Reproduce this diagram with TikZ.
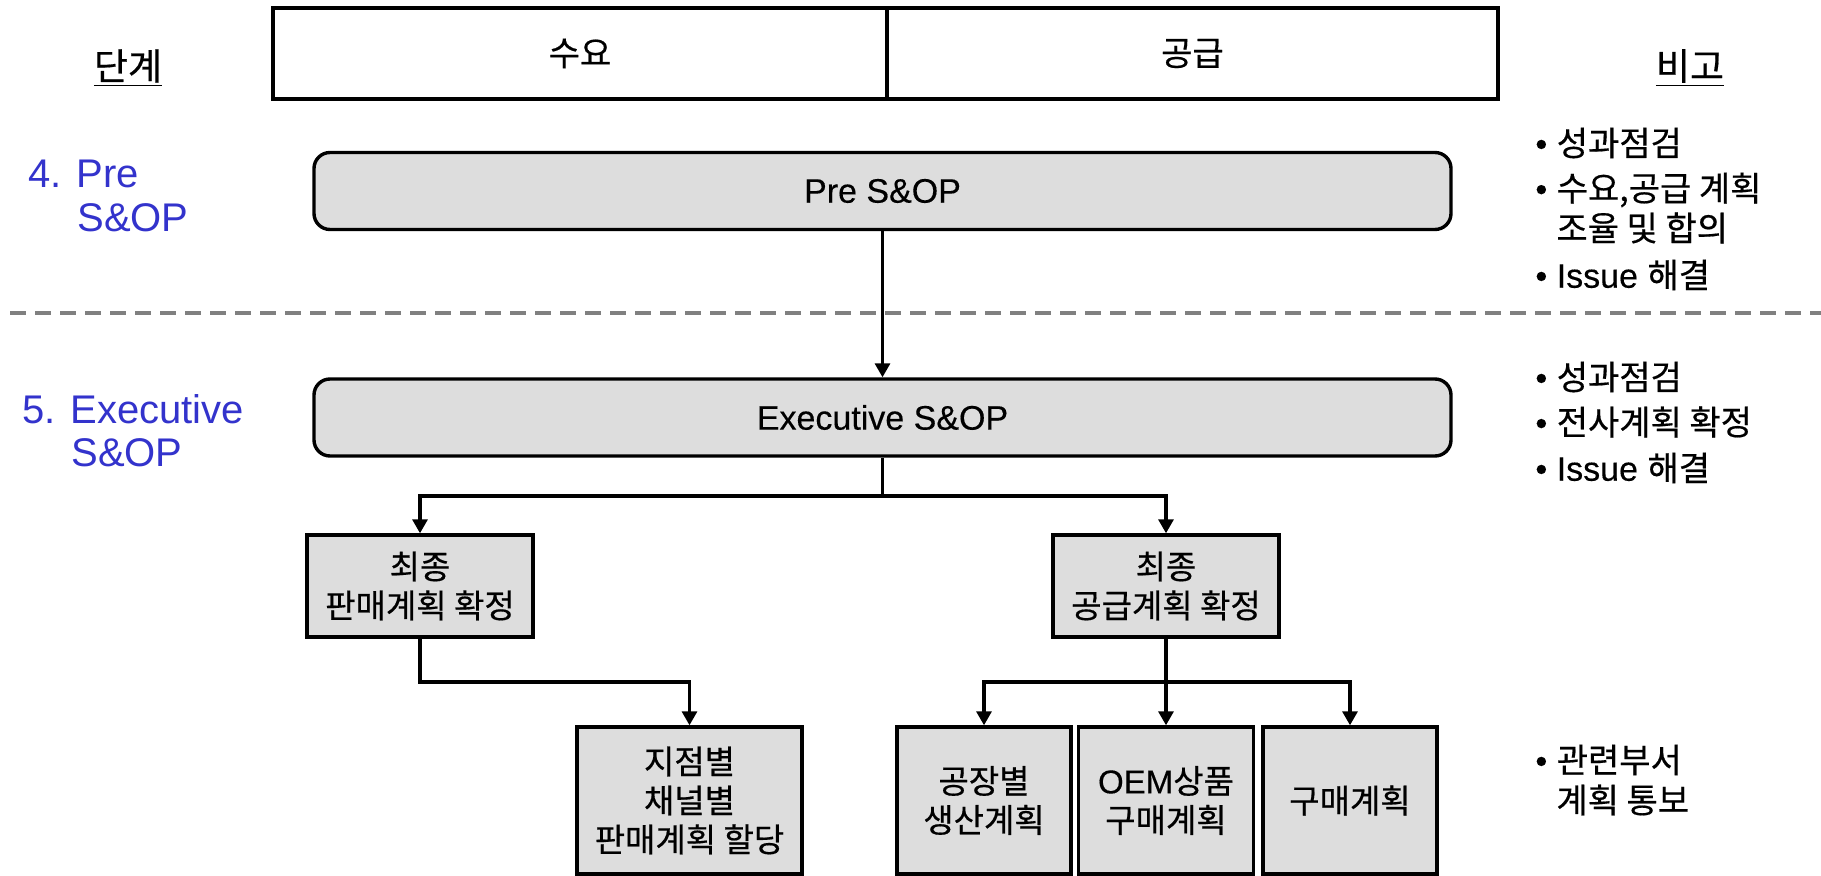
\documentclass[tikz,border=0pt]{standalone}
\usepackage{fontspec}
\setmainfont{Noto Sans CJK KR}[FakeBold=0.5]
\newfontfamily\enfont{Liberation Sans}[FakeBold=0.3]
\newfontfamily\phasefont{Liberation Sans}
\usetikzlibrary{positioning,arrows.meta}
\definecolor{stagecol}{RGB}{51,51,204}
\definecolor{boxfill}{RGB}{221,221,221}
\definecolor{sepgray}{RGB}{128,128,128}

\begin{document}
\begin{tikzpicture}
  [x=0.5pt,y=-0.5pt,
   hdr/.style={rectangle,draw,line width=1.6pt,minimum height=45.5pt,
               inner sep=0pt,font=\fontsize{17}{20}\selectfont},
   stage/.style={rectangle,rounded corners=8pt,draw,line width=1.7pt,
                 fill=boxfill,minimum width=568.5pt,minimum height=38.5pt,
                 font=\enfont\fontsize{17}{20}\selectfont},
   task/.style={rectangle,draw,line width=1.7pt,fill=boxfill,align=center,
                inner sep=0pt,font=\fontsize{16.5}{19.5}\selectfont},
   phase/.style={anchor=west,inner sep=0pt,text=stagecol,
                 font=\phasefont\fontsize{20}{24}\selectfont},
   note/.style={anchor=west,inner sep=0pt,font=\fontsize{17}{20}\selectfont},
   arr/.style={line width=1.6pt,-{Triangle[length=7pt,width=7.5pt]}},
   link/.style={line width=1.6pt}]
  \useasboundingbox (0,0) rectangle (1821,876);

  \node[hdr,minimum width=307pt]   (demand)    at (580,53.5)    {수요};
  \node[hdr,minimum width=305.5pt] (supplyhdr) at (1192.5,53.5) {공급};
  \node[note,anchor=center,font=\fontsize{18.5}{22}\selectfont]
       (steps)   at (128,68)  {\underline{단계}};
  \node[note,anchor=center,font=\fontsize{18.5}{22}\selectfont]
       (remarks) at (1690,68) {\underline{비고}};

  \node[stage] (pre)  at (882.5,191)   {Pre S\&OP};
  \node[stage] (exec) at (882.5,417.5) {Executive S\&OP};

  \node[phase] (pre4)  at (28,174) {4. Pre};
  \node[phase] (pre4b) at (77,218) {S\&OP};
  \node[phase] (exe5)  at (22,409) {5. Executive};
  \node[phase] (exe5b) at (71,453) {S\&OP};

  \draw[sepgray,line width=2pt,dash pattern=on 8pt off 4.5pt]
       (10,313) -- (1821,313);

  \node[task,minimum width=113pt,minimum height=51pt] (sales)  at (420,586)
       {최종\\판매계획 확정};
  \node[task,minimum width=113pt,minimum height=51pt] (supply) at (1166,586)
       {최종\\공급계획 확정};
  \node[task,minimum width=112.5pt,minimum height=73.5pt] (alloc) at (689.5,800.5)
       {지점별\\채널별\\판매계획 할당};
  \node[task,minimum width=87pt,minimum height=73.5pt] (plant) at (984,800.5)
       {공장별\\생산계획};
  \node[task,minimum width=87.5pt,minimum height=73.5pt] (oem) at (1166,800.5)
       {{\enfont OEM}상품\\구매계획};
  \node[task,minimum width=87pt,minimum height=73.5pt] (buy) at (1350,800.5)
       {구매계획};

  \node[note] (n1)  at (1535,143) {{\enfont• }성과점검};
  \node[note] (n2)  at (1535,190) {{\enfont• }수요,공급 계획};
  \node[note] (n2b) at (1556,228) {조율 및 합의};
  \node[note] (n3)  at (1535,275) {{\enfont• Issue }해결};
  \node[note] (n4)  at (1535,377) {{\enfont• }성과점검};
  \node[note] (n5)  at (1535,422) {{\enfont• }전사계획 확정};
  \node[note] (n6)  at (1535,468) {{\enfont• Issue }해결};
  \node[note] (n7)  at (1535,760) {{\enfont• }관련부서};
  \node[note] (n7b) at (1556,800) {계획 통보};

  \coordinate (fork1) at (882.5,496);
  \coordinate (fork2) at (1166,682);

  \draw[arr]  (pre) -- (exec);
  \draw[link] (exec) -- (fork1);
  \draw[arr]  (fork1) -| (sales);
  \draw[arr]  (fork1) -| (supply);
  \draw[arr]  (sales.south) -- (sales.south |- fork2) -| (alloc);
  \draw[link] (supply) -- (fork2);
  \draw[arr]  (fork2) -| (plant);
  \draw[arr]  (fork2) -- (oem);
  \draw[arr]  (fork2) -| (buy);
\end{tikzpicture}
\end{document}
